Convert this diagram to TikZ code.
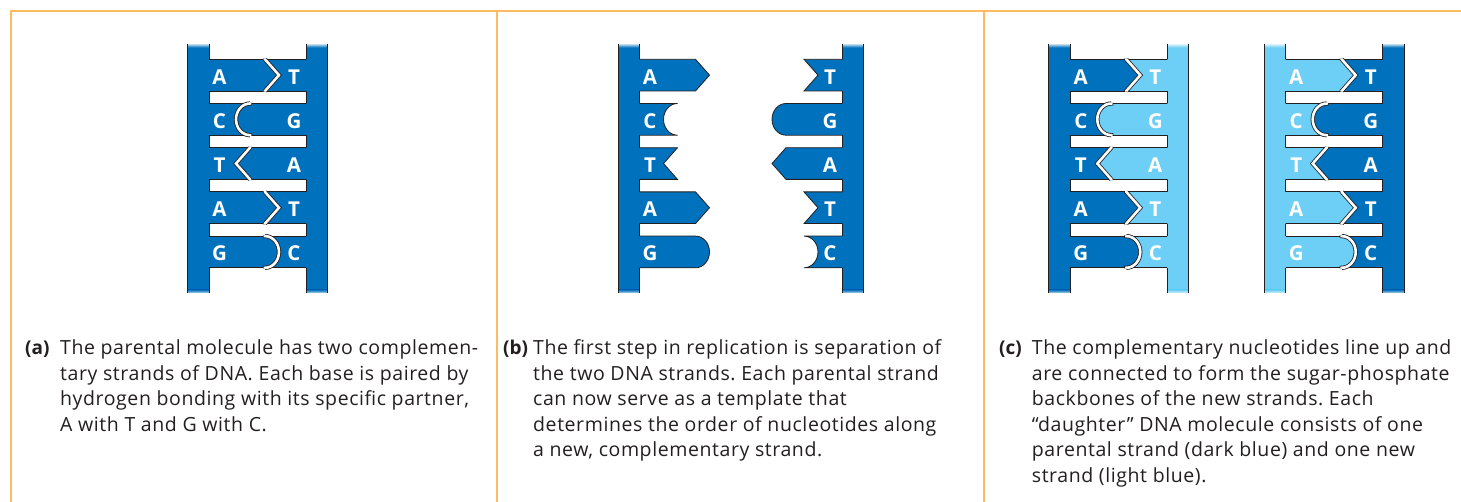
\documentclass[tikz,border=0pt]{standalone}
\usepackage{fontspec}
\setmainfont{Open Sans}
\newfontfamily\capfont[LetterSpace=3.0]{Open Sans}
\definecolor{dnadark}{RGB}{0,113,188}
\definecolor{dnalight}{RGB}{109,207,246}
\definecolor{ink}{RGB}{35,31,32}
\definecolor{framecol}{RGB}{253,186,99}
\tikzset{
  edge/.style={draw=ink, line width=0.8pt},
  seamline/.style={draw=ink, line width=0.8pt, double=white, double distance=2.6pt},
  letter/.style={text=white, font=\fontsize{20.5}{20.5}\selectfont\bfseries, inner sep=0pt},
  caption/.style={anchor=base west, inner sep=0pt, text=ink},
  panelrule/.style={draw=framecol, line width=1.3pt},
  outerrule/.style={draw=framecol, line width=2pt}
}
% backbone bar: #1 left x, #2 right x, #3 colour
\newcommand{\backbone}[3]{%
  \fill[#3] (#1,44.3) rectangle (#2,293);
  \shade[top color=#3!30!white, bottom color=#3] (#1,44.3) rectangle (#2,47.5);
  \shade[top color=#3, bottom color=#3!30!white] (#1,289.8) rectangle (#2,293);
  \draw[edge] (#1,44.3) -- (#1,293) (#2,44.3) -- (#2,293);
}
% seam between two bases: #1 kind (c = chevron, r = rounded), #2 top y
\newcommand{\setseam}[2]{%
  \if#1c\def\seam{(\xa,#2) -- (\xt,\yM) -- (\xa,\yB)}%
  \else\def\seam{(\xa,#2) .. controls (\xk,#2) and (\xt,\yU) .. (\xt,\yM) .. controls (\xt,\yD) and (\xk,\yB) .. (\xa,\yB)}\fi
}
% paired rung: #1 inner left x, #2 inner right x, #3 top y, #4 kind,
% #5 +1 purine on the left / -1 purine on the right, #6 left colour, #7 right colour
\newcommand{\pairrow}[7]{%
  \pgfmathsetmacro\yB{#3+31.7}\pgfmathsetmacro\yM{#3+15.85}%
  \pgfmathsetmacro\yU{\yM-8.75}\pgfmathsetmacro\yD{\yM+8.75}%
  \pgfmathsetmacro\xa{#5>0 ? #1+56 : #2-56}%
  \pgfmathsetmacro\xt{\xa+#5*14}\pgfmathsetmacro\xk{\xa+#5*7.73}%
  \pgfmathsetmacro\xl{#1-1}\pgfmathsetmacro\xr{#2+1}%
  \setseam{#4}{#3}%
  \fill[#6] (\xl,\yB) -- (\xl,#3) -- \seam -- cycle;
  \fill[#7] (\xr,\yB) -- (\xr,#3) -- \seam -- cycle;
  \draw[edge] (#1,#3) -- (#2,#3) (#1,\yB) -- (#2,\yB);
  \pgfmathsetmacro\ya{#3-0.7}\pgfmathsetmacro\yb{\yB+0.7}%
  \draw[seamline] (\xa,\ya) -- \seam -- (\xa,\yb);
}
% single base on a lone strand: #1 inner x, #2 direction, #3 top y, #4 kind,
% #5 length to the seam, #6 +1 bulging out / -1 notched in, #7 colour
\newcommand{\onebase}[7]{%
  \pgfmathsetmacro\yB{#3+31.7}\pgfmathsetmacro\yM{#3+15.85}%
  \pgfmathsetmacro\yU{\yM-8.75}\pgfmathsetmacro\yD{\yM+8.75}%
  \pgfmathsetmacro\xa{#1+#2*#5}\pgfmathsetmacro\sgn{#2*#6}%
  \pgfmathsetmacro\xt{\xa+\sgn*14}\pgfmathsetmacro\xk{\xa+\sgn*7.73}%
  \pgfmathsetmacro\xo{#1-#2}%
  \setseam{#4}{#3}%
  \fill[#7] (\xo,\yB) -- (\xo,#3) -- \seam -- cycle;
  \draw[edge] (#1,#3) -- \seam -- (#1,\yB);
}
% double-stranded ladder: #1 inner left x, #2 inner right x, #3/#4 colours, #5 name prefix
\newcommand{\ladder}[5]{%
  \pgfmathsetmacro\oL{#1-21.5}\pgfmathsetmacro\oR{#2+21.5}%
  \backbone{\oL}{#1}{#3}
  \backbone{#2}{\oR}{#4}
  \foreach \i/\kd/\sg/\bL/\bR in {0/c/1/A/T,1/r/-1/C/G,2/c/-1/T/A,3/c/1/A/T,4/r/1/G/C}{
    \pgfmathsetmacro\yT{59.3+44.2*\i}
    \pairrow{#1}{#2}{\yT}{\kd}{\sg}{#3}{#4}
    \node[letter] (#5l\i) at ({#1+10.5},{\yT+17.4}) {\bL};
    \node[letter] (#5r\i) at ({#2-12},{\yT+17.4}) {\bR};
  }
}
\newcommand{\captext}{\capfont\fontsize{19.5}{25.4}\selectfont\frenchspacing\raggedright}
\begin{document}
\begin{tikzpicture}[x=1pt, y=-1pt]
  \useasboundingbox (0,0) rectangle (1461,502);
  \fill[white] (0,0) rectangle (1461,502);

  % panel frame
  \draw[outerrule] (1461,11) -- (10.5,11) -- (10.5,502);
  \draw[panelrule] (497,11) -- (497,502);
  \draw[panelrule] (984,11) -- (984,502);

  % (a) parental molecule
  \ladder{209}{306}{dnadark}{dnadark}{a}

  % (b) separated strands
  \backbone{618}{639.5}{dnadark}
  \backbone{842}{863.5}{dnadark}
  \foreach \i/\kd/\len/\sg/\bL in {0/c/56/1/A, 1/r/38/-1/C, 2/c/38/-1/T, 3/c/56/1/A, 4/r/56/1/G}{
    \pgfmathsetmacro\yT{59.3+44.2*\i}
    \onebase{639.5}{1}{\yT}{\kd}{\len}{\sg}{dnadark}
    \node[letter] (bl\i) at (650,{\yT+17.4}) {\bL};
  }
  \foreach \i/\kd/\len/\sg/\bR in {0/c/38/-1/T, 1/r/56/1/G, 2/c/56/1/A, 3/c/38/-1/T, 4/r/38/-1/C}{
    \pgfmathsetmacro\yT{59.3+44.2*\i}
    \onebase{842}{-1}{\yT}{\kd}{\len}{\sg}{dnadark}
    \node[letter] (br\i) at (830,{\yT+17.4}) {\bR};
  }

  % (c) two daughter molecules
  \ladder{1070.3}{1167.3}{dnadark}{dnalight}{c}
  \ladder{1285.7}{1382.7}{dnalight}{dnadark}{d}

  % captions
  \node[caption, font=\fontsize{19}{25.4}\selectfont\bfseries] (labA) at (25,355) {(a)};
  \node[caption] (txtA) at (60,355) {\parbox[t]{440pt}{\captext
    The parental molecule has two complemen-\\
    tary strands of DNA. Each base is paired by\\
    hydrogen bonding with its specific partner,\\
    A with T and G with C.}};
  \node[caption, font=\fontsize{19}{25.4}\selectfont\bfseries] (labB) at (503,355) {(b)};
  \node[caption] (txtB) at (533,355) {\parbox[t]{440pt}{\captext
    The first step in replication is separation of\\
    the two DNA strands. Each parental strand\\
    can now serve as a template that\\
    determines the order of nucleotides along\\
    a new, complementary strand.}};
  \node[caption, font=\fontsize{19}{25.4}\selectfont\bfseries] (labC) at (999,355) {(c)};
  \node[caption] (txtC) at (1031.7,355) {\parbox[t]{425pt}{\captext
    The complementary nucleotides line up and\\
    are connected to form the sugar-phosphate\\
    backbones of the new strands. Each\\
    “daughter” DNA molecule consists of one\\
    parental strand (dark blue) and one new\\
    strand (light blue).}};
\end{tikzpicture}
\end{document}
